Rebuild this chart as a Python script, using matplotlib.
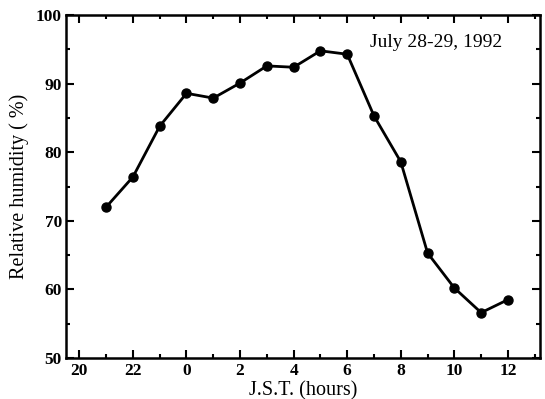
import matplotlib
matplotlib.use("Agg")
import matplotlib.pyplot as plt
from matplotlib.ticker import MultipleLocator

hours = [21, 22, 23, 24, 25, 26, 27, 28, 29, 30, 31, 32, 33, 34, 35, 36]
humidity = [72.0, 76.4, 83.8, 88.6, 87.9, 90.1, 92.6, 92.4, 94.8, 94.3, 85.3, 78.6, 65.3, 60.2, 56.6, 58.5]
tick_pos = [20, 22, 24, 26, 28, 30, 32, 34, 36]
tick_labels = ["20", "22", "0", "2", "4", "6", "8", "10", "12"]
y_ticks = [50, 60, 70, 80, 90, 100]

plt.rcParams['font.family'] = ['Liberation Serif', 'DejaVu Serif']

fig = plt.figure(figsize=(5.45, 3.99), dpi=100)
ax = fig.add_axes([0.121, 0.103, 0.870, 0.859])
ax.plot(hours, humidity, color='black', lw=2.0, marker='o', ms=6.5)
ax.set_xlim(19.5, 37.2)
ax.set_ylim(50, 100)
ax.set_xticks(tick_pos)
ax.set_xticklabels(tick_labels, fontweight='bold', fontsize=12.5)
ax.set_yticks(y_ticks)
ax.set_yticklabels([str(v) for v in y_ticks], fontweight='bold', fontsize=12.5)
ax.xaxis.set_minor_locator(MultipleLocator(1))
ax.yaxis.set_minor_locator(MultipleLocator(5))
ax.tick_params(which='both', direction='in', top=True, right=True, width=1.5)
ax.tick_params(which='major', length=6)
ax.tick_params(axis='x', which='major', pad=4)
ax.tick_params(axis='y', which='major', pad=3)
ax.tick_params(which='minor', length=3)
for s in ax.spines.values():
    s.set_linewidth(1.8)
ax.set_xlabel("J.S.T. (hours)", fontsize=14.5, labelpad=1)
ax.set_ylabel("Relative humidity ( %)", fontsize=14.5, labelpad=5)
ax.text(0.78, 0.92, "July 28-29, 1992", transform=ax.transAxes, ha='center', va='center', fontsize=14)
fig.savefig("out.png", dpi=100)
